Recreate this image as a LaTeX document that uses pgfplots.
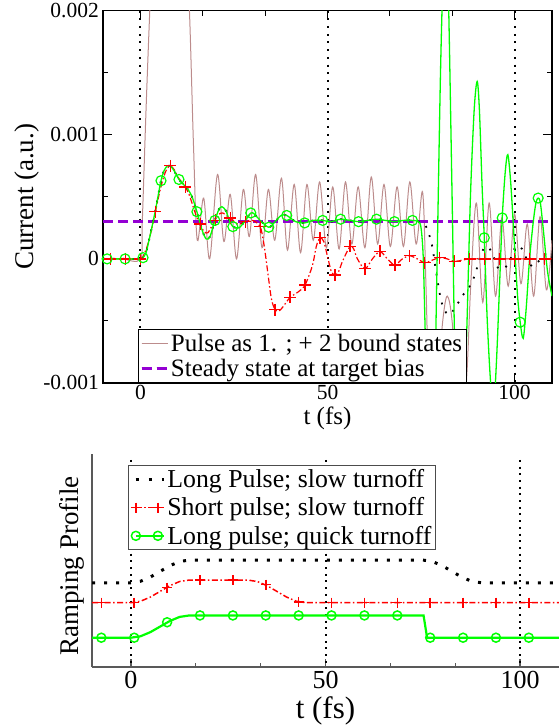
\documentclass[border=0pt]{standalone}
\usepackage{fontspec}
\setmainfont{Liberation Serif}
\usepackage{pgfplots}
\pgfplotsset{compat=1.18}
\definecolor{grgreen}{RGB}{0,255,0}
\definecolor{grred}{RGB}{255,0,0}
\definecolor{grbrown}{RGB}{188,140,140}
\definecolor{grpurple}{RGB}{148,0,211}
\begin{document}
\begin{tikzpicture}
\useasboundingbox (0bp,0bp) rectangle (559bp,725bp);
%================ TOP PANEL =================
\begin{axis}[
  at={(103bp,342bp)}, anchor=south west, scale only axis,
  width=449bp, height=372.3bp,
  xmin=-10, xmax=110, ymin=-0.001, ymax=0.002,
  xtick={0,50,100}, xticklabels={0,50,100}, minor x tick num=2,
  ytick={-0.001,0,0.001,0.002}, yticklabels={-0.001,0,0.001,0.002}, minor y tick num=1,
  scaled y ticks=false,
  tick align=inside, major tick length=9bp, minor tick length=5bp,
  tick style={black, line width=1bp},
  axis line style={line width=1.3bp},
  ticklabel style={font=\fontsize{21.5bp}{24bp}\selectfont},
  xticklabel style={inner sep=2bp},
  yticklabel style={inner sep=4bp},
  xlabel={t (fs)}, ylabel={Current (a.u.)},
  xlabel style={font=\fontsize{25bp}{30bp}\selectfont, at={(axis description cs:0.5,-0.094)}, anchor=center},
  ylabel style={font=\fontsize{27bp}{30bp}\selectfont, at={(axis description cs:-0.17,0.5)}, anchor=center},
  legend style={at={(0.077,0)}, anchor=south west, draw=black, line width=1.2bp, fill=white,
    font=\fontsize{25bp}{28bp}\selectfont, inner xsep=2bp, inner ysep=2.5bp,
    nodes={inner sep=2bp}, row sep=2bp},
  legend cell align=left,
  legend image code/.code={\draw[#1] (0bp,0bp) -- (17bp,0bp); \path (0bp,0bp) -- (26bp,0bp);},
]
% vertical dotted reference lines
\addplot[black, line width=2bp, dash pattern=on 2bp off 5.7bp, forget plot] coordinates {(0,0.002) (0,-0.001)};
\addplot[black, line width=2bp, dash pattern=on 2bp off 5.7bp, forget plot] coordinates {(50,0.002) (50,-0.001)};
\addplot[black, line width=2bp, dash pattern=on 2bp off 5.7bp, forget plot] coordinates {(100,0.002) (100,-0.001)};
% brown: pulse + bound states
\addplot[grbrown, line width=1bp, smooth, tension=0.55] coordinates {
(-10,0) (-5,0) (0,0) (0.5,0.0003) (1.5,0.0012) (2.5,0.002) (4,0.0031) (6,0.0038) (8,0.0039) (10,0.0034) (12,0.0026)
(13.1,0.002) (14.2,0.0009) (15.2,0.00015) (16.9,0.00049) (18.5,0.0) (20.6,0.00068) (22.3,0.00014) (24,0.00052)
(25.7,0.0) (27.5,0.00056) (29.1,0.00018) (30.8,0.00068) (32.5,0.00009) (34.2,0.00056) (35.9,0.00015) (37.7,0.00065)
(39.3,0.00007) (41.1,0.0006) (42.8,0.00005) (44.5,0.0006) (46.2,0.00015) (47.9,0.00062) (49.7,0.00009) (51.4,0.00058)
(53.1,0.00008) (54.8,0.00062) (56.5,0.00012) (58.2,0.00058) (60,0.00009) (61.7,0.00066) (63.4,0.00012) (65.1,0.0006)
(66.8,0.0001) (68.6,0.00058) (70.3,0.0001) (72,0.00062) (73.7,0.00012) (75.4,0.00054) (76.3,-0.0002) (77.2,-0.0012)
(78.3,-0.0016) (79.5,-0.001) (80.8,-0.0005) (82,-0.0003) (83.3,-0.0005) (84.6,-0.0011) (86,-0.0014) (87.3,-0.0009)
(88.3,-0.0002) (89.8,0.00045) (91.5,-0.00035) (93.2,0.00045) (94.9,-0.0003) (96.6,0.00033) (98.3,-0.00022)
(100,0.00036) (101.7,-0.0002) (103.4,0.00028) (105.1,-0.0003) (106.8,0.00034) (108.5,-0.00025) (110,0.00015)};
\addlegendentry{Pulse as 1. ; + 2 bound states}
% purple steady state
\addplot[grpurple, line width=2.8bp, dash pattern=on 10bp off 5bp] coordinates {(-10,0.0003) (110,0.0003)};
\addlegendentry{Steady state at target bias}
% red: short pulse, slow turnoff
\addplot[grred, line width=1.2bp, dash pattern=on 6bp off 2.5bp on 1.5bp off 2.5bp, smooth, tension=0.5, forget plot] coordinates {
(-10,0) (-8,0) (-4,0) (0,0) (1,0.00004) (2,0.00012) (3,0.00024) (4,0.00038) (5,0.00052) (6,0.00064) (7,0.00072)
(8,0.00075) (9,0.00072) (10,0.00066) (11,0.00062) (12,0.00058) (13,0.00052) (14,0.00043) (15,0.00034) (16,0.00028)
(17,0.00022) (18,0.00021) (19,0.00026) (20,0.00031) (21,0.00036) (22,0.00037) (23,0.00035) (24,0.00033) (26,0.00028)
(28,0.0003) (30,0.00031) (32,0.00026) (33,0.00012) (34,-0.0001) (35,-0.00032) (36,-0.00041) (37,-0.00042) (38,-0.00039)
(40,-0.00031) (42,-0.00027) (44,-0.00021) (46,-0.00005) (47,0.0001) (48,0.00017) (49,0.00014) (50,0.00002) (51,-0.0001)
(52,-0.00013) (53,-0.0001) (54,-0.00002) (56,0.0001) (57,0.00008) (58,0.0) (60,-0.00008) (62,0.0) (64,0.00006) (66,0.0)
(68,-0.00005) (70,0.0) (72,0.000025) (74,0.0) (76,-0.00003) (78,-0.00001) (80,0.00001) (82,0.0) (84,-0.00002)
(86,-0.00001) (88,0.0) (92,0.0) (96,0.0) (100,0.0) (104,0.0) (108,0.0) (110,0.0)};
% black: long pulse, slow turnoff
\addplot[black, line width=1.8bp, dash pattern=on 1.8bp off 8bp, smooth, tension=0.5, forget plot] coordinates {
(-10,0) (-8.9,0) (-4.1,0) (0,0) (0.7,0.00001) (1.5,0.00005) (2.3,0.00015) (3.1,0.00026) (4,0.00039) (4.8,0.00052)
(5.5,0.00063) (6.3,0.00071) (7.2,0.00075) (8,0.00075) (9,0.00071) (10.3,0.00064) (11.5,0.0006) (12.5,0.00057)
(13.8,0.0005) (15.1,0.00038) (16.5,0.00023) (17.6,0.00016) (18.6,0.00018) (19.9,0.00031) (21,0.0004) (21.8,0.00042)
(22.8,0.00039) (23.8,0.00031) (24.7,0.00026) (26.3,0.00025) (27.8,0.0003) (29.5,0.00037) (30.5,0.00036) (32,0.00031)
(34.3,0.000255) (36,0.0003) (37.6,0.00035) (39.1,0.00035) (41.5,0.0003) (43.9,0.00029) (46.2,0.00031) (48.7,0.00031)
(51,0.0003) (53.5,0.00032) (56,0.00031) (58.3,0.0003) (60.7,0.00031) (63.1,0.00032) (65.5,0.00031) (67.9,0.0003)
(70.3,0.00031) (72.7,0.00031) (74.3,0.0003) (75,0.0003) (76,0.00028) (77,0.00021) (78,0.0001) (79,-0.0001) (80,-0.00028)
(81,-0.0004) (82.5,-0.00045) (84,-0.0004) (86,-0.0003) (88,-0.00022) (89.5,-0.00012) (91,0.00004) (92.5,0.0001)
(94,0.00005) (95.5,-0.00007) (97,-0.00008) (98.5,-0.00003) (100.3,0.0001) (102,0.00008) (103.5,-0.00002) (105,-0.00006)
(107,0) (109,0.00006) (110,0.00004)};
% green: long pulse, quick turnoff
\addplot[grgreen, line width=1.3bp, smooth, tension=0.5, forget plot] coordinates {
(-10,0) (-8.9,0) (-4.1,0) (0,0) (0.7,0.00001) (1.5,0.00005) (2.3,0.00015) (3.1,0.00026) (4,0.00039) (4.8,0.00052)
(5.5,0.00063) (6.3,0.00071) (7.2,0.00075) (8,0.00075) (9,0.00071) (10.3,0.00064) (11.5,0.0006) (12.5,0.00057)
(13.8,0.0005) (15.1,0.00038) (16.5,0.00023) (17.6,0.00016) (18.6,0.00018) (19.9,0.00031) (21,0.0004) (21.8,0.00042)
(22.8,0.00039) (23.8,0.00031) (24.7,0.00026) (26.3,0.00025) (27.8,0.0003) (29.5,0.00037) (30.5,0.00036) (32,0.00031)
(34.3,0.000255) (36,0.0003) (37.6,0.00035) (39.1,0.00035) (41.5,0.0003) (43.9,0.00029) (46.2,0.00031) (48.7,0.00031)
(51,0.0003) (53.5,0.00032) (56,0.00031) (58.3,0.0003) (60.7,0.00031) (63.1,0.00032) (65.5,0.00031) (67.9,0.0003)
(70.3,0.00031) (72.7,0.00031) (74.3,0.0003) (75,0.00025) (75.6,0) (76.2,-0.0007) (76.9,-0.0015) (77.7,-0.0019)
(78.5,-0.0013) (79.3,0) (80.2,0.0015) (81,0.0024) (81.7,0.0027) (82.4,0.002) (83.3,0.0005) (84.2,-0.001) (85.2,-0.0017)
(86.2,-0.0015) (87.2,-0.0006) (88.2,0.0005) (89.2,0.0012) (90,0.00143) (90.6,0.0012) (91.3,0.0006) (91.9,0.00017)
(92.7,-0.0005) (93.6,-0.001) (94.4,-0.0012) (95.2,-0.0008) (96,-0.0002) (96.7,0.00033) (97.5,0.0007) (98.2,0.00084)
(99,0.0006) (100,0.0001) (100.8,-0.0003) (101.5,-0.00051) (102.3,-0.00064) (103.1,-0.0004) (104,0) (105,0.0003)
(105.7,0.00045) (106.3,0.00049) (106.9,0.00045) (107.8,0.0002) (108.8,-0.0001) (110,-0.0003)};
% markers
\addplot[only marks, mark=+, mark size=6bp, grred, line width=1.3bp, forget plot] coordinates {
(-8,0) (-4,0) (0,0) (4,0.00038) (8,0.00075) (12,0.00058) (16,0.00028) (20,0.00031) (24,0.00033) (28,0.0003)
(32,0.00026) (36,-0.00041) (40,-0.00031) (44,-0.00021) (48,0.00017) (52,-0.00013) (56,0.0001) (60,-0.00008)
(64,0.00006) (68,-0.00005) (72,0.000025) (76,-0.00003) (80,0.00001) (84,-0.00002) (88,0) (92,0) (96,0) (100,0) (104,0) (108,0)};
\addplot[only marks, mark=o, mark size=5bp, grgreen, line width=1.2bp, forget plot] coordinates {
(-8.9,0) (-4.1,0) (0.7,0.00001) (5.5,0.00063) (10.3,0.00064) (15.1,0.00038) (19.9,0.00031) (24.7,0.00026)
(29.5,0.00037) (34.3,0.000255) (39.1,0.00035) (43.9,0.00029) (48.7,0.00031) (53.5,0.00032) (58.3,0.0003)
(63.1,0.00032) (67.9,0.0003) (72.7,0.00031) (91.9,0.00017) (96.7,0.00033) (101.5,-0.00051) (106.3,0.00049)};
\end{axis}
%================ BOTTOM PANEL =================
\begin{axis}[
  at={(92bp,58bp)}, anchor=south west, scale only axis,
  width=467bp, height=213bp,
  xmin=-10, xmax=110, ymin=0, ymax=9.38,
  axis x line*=bottom, axis y line*=left,
  axis line style={-, black!65, line width=1.8bp},
  xtick={0,50,100}, xticklabels={0,50,100}, minor x tick num=2, ytick=\empty,
  tick align=inside, major tick length=8bp, minor tick length=4bp,
  tick style={black!65, line width=1.2bp},
  ticklabel style={font=\fontsize{26bp}{30bp}\selectfont},
  xticklabel style={inner sep=4bp},
  xlabel={t (fs)}, ylabel={Ramping Profile},
  xlabel style={font=\fontsize{31bp}{34bp}\selectfont, at={(axis description cs:0.5,-0.207)}, anchor=center},
  ylabel style={font=\fontsize{27bp}{30bp}\selectfont, at={(axis description cs:-0.043,0.474)}, anchor=center},
  legend style={at={(0.0777,0.948)}, anchor=north west, draw=black!70, line width=1.2bp, fill=white,
    font=\fontsize{25.8bp}{28bp}\selectfont, inner xsep=2bp, inner ysep=2bp,
    nodes={inner sep=2bp}, row sep=4.5bp},
  legend cell align=left,
  legend image code/.code={\draw[#1] plot coordinates {(0bp,0bp) (22bp,0bp)}; \path (0bp,0bp) -- (28bp,0bp);},
]
\addlegendimage{black, line width=3bp, dash pattern=on 3bp off 10bp}
\addlegendentry{Long Pulse; slow turnoff}
\addlegendimage{grred, line width=1.5bp, dash pattern=on 6bp off 2.5bp on 1.5bp off 2.5bp, mark=+, mark size=5bp, mark options={solid}}
\addlegendentry{Short pulse; slow turnoff}
\addlegendimage{grgreen, line width=2bp, mark=o, mark size=4.5bp, mark options={solid, line width=1.5bp}}
\addlegendentry{Long pulse; quick turnoff}
\addplot[black, line width=2bp, dash pattern=on 2bp off 4.7bp, forget plot] coordinates {(0,9.12) (0,0)};
\addplot[black, line width=2bp, dash pattern=on 2bp off 4.7bp, forget plot] coordinates {(50,9.12) (50,0)};
\addplot[black, line width=2bp, dash pattern=on 2bp off 4.7bp, forget plot] coordinates {(100,9.12) (100,0)};
\addplot[black, line width=3bp, dash pattern=on 3bp off 9bp, forget plot] coordinates {
(-10,3.71) (0,3.71) (2.5,3.777) (5,3.96) (7.5,4.21) (10,4.46) (12.5,4.643) (15,4.71) (75,4.71) (77.5,4.643) (80,4.46)
(82.5,4.21) (85,3.96) (87.5,3.777) (90,3.71) (110,3.71)};
\addplot[grred, line width=1.5bp, dash pattern=on 6bp off 2.5bp on 1.5bp off 2.5bp, forget plot] coordinates {
(-10,2.83) (0,2.83) (2.5,2.897) (5,3.08) (7.5,3.33) (10,3.58) (12.5,3.763) (15,3.83) (30,3.83) (32.5,3.763) (35,3.58)
(37.5,3.33) (40,3.08) (42.5,2.897) (45,2.83) (110,2.83)};
\addplot[grgreen, line width=2.2bp, forget plot] coordinates {
(-10,1.29) (0,1.29) (2.5,1.355) (5,1.535) (7.5,1.78) (10,2.025) (12.5,2.205) (15,2.27) (75.2,2.27) (76.1,1.29) (110,1.29)};
\addplot[only marks, mark=+, mark size=5bp, grred, line width=1.5bp, forget plot] coordinates {
(-7.6,2.83) (0.85,2.84) (9.3,3.5) (17.75,3.83) (26.2,3.83) (34.65,3.63) (43.1,2.87) (51.55,2.83) (60,2.83)
(68.45,2.83) (76.9,2.83) (85.35,2.83) (93.8,2.83) (102.25,2.83)};
\addplot[only marks, mark=o, mark size=4.5bp, grgreen, line width=1.5bp, forget plot] coordinates {
(-7.6,1.29) (0.85,1.29) (9.3,1.97) (17.75,2.27) (26.2,2.27) (34.65,2.27) (43.1,2.27) (51.55,2.27) (60,2.27)
(68.45,2.27) (76.9,1.29) (85.35,1.29) (93.8,1.29) (102.25,1.29)};
\end{axis}
\end{tikzpicture}
\end{document}
